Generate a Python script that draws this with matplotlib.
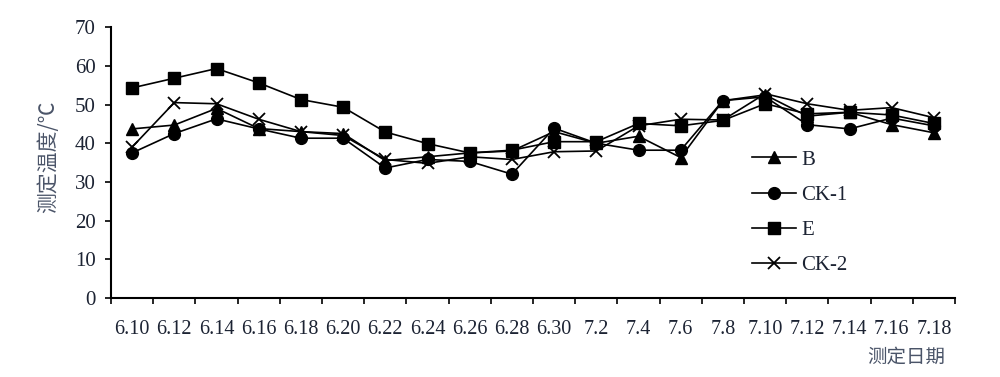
import matplotlib
matplotlib.use("Agg")
import matplotlib.pyplot as plt
import numpy as np

dates = ["6.10", "6.12", "6.14", "6.16", "6.18", "6.20", "6.22", "6.24", "6.26", "6.28",
         "6.30", "7.2", "7.4", "7.6", "7.8", "7.10", "7.12", "7.14", "7.16", "7.18"]
B    = [43.7, 44.7, 49.0, 43.8, 43.0, 42.5, 35.5, 36.5, 37.5, 38.0,
        43.0, 40.0, 41.8, 36.3, 51.0, 52.5, 47.0, 48.0, 44.8, 42.7]
CK1  = [37.5, 42.5, 46.3, 43.7, 41.3, 41.3, 33.6, 35.8, 35.3, 32.0,
        43.9, 40.0, 38.2, 38.2, 51.0, 52.0, 44.8, 43.7, 46.5, 44.5]
E    = [54.3, 56.8, 59.3, 55.6, 51.3, 49.3, 42.9, 39.9, 37.5, 38.2,
        40.4, 40.4, 45.1, 44.5, 45.9, 50.2, 47.6, 48.0, 47.3, 45.1]
CK2  = [39.0, 50.5, 50.2, 46.2, 43.0, 42.0, 35.8, 34.8, 36.5, 35.8,
        37.8, 38.0, 44.5, 46.2, 46.0, 52.8, 50.2, 48.5, 49.2, 46.6]
yticks = [0, 10, 20, 30, 40, 50, 60, 70]

serif = ["Liberation Serif", "DejaVu Serif"]
cjk = ["Noto Sans CJK SC", "DejaVu Sans"]
tick_color = "#1c2333"
label_color = "#4a5468"

fig = plt.figure(figsize=(10, 3.77), dpi=100)
ax = fig.add_axes([0.111, 0.2095, 0.844, 0.7185])

x = np.arange(len(dates))
lw = 1.2
ax.plot(x, B, color="black", lw=lw, marker="^", ms=8.5, label="B")
ax.plot(x, CK1, color="black", lw=lw, marker="o", ms=8.5, label="CK-1")
ax.plot(x, E, color="black", lw=lw, marker="s", ms=8.5, label="E")
ax.plot(x, CK2, color="black", lw=lw, marker="x", ms=9, mew=1.3, label="CK-2")

ax.set_xlim(-0.5, len(dates) - 0.5)
ax.set_ylim(0, 70)
ax.set_yticks(yticks)
ax.set_yticklabels([str(v) for v in yticks], fontfamily=serif, fontsize=15, color=tick_color)
ax.set_xticks(x)
ax.set_xticklabels(dates, fontfamily=serif, fontsize=14.5, color=tick_color)
ax.set_xticks(np.arange(-0.5, len(dates)), minor=True)
ax.tick_params(axis="x", which="major", length=0, pad=16)
ax.tick_params(axis="x", which="minor", length=4, width=1.2, direction="out")
ax.tick_params(axis="y", length=4, width=1.2, direction="out", pad=7)

for s in ["top", "right"]:
    ax.spines[s].set_visible(False)
for s in ["left", "bottom"]:
    ax.spines[s].set_linewidth(1.5)

fig.text(0.048, 0.584, "测定温度/℃", rotation=90, ha="center", va="center",
         fontfamily=cjk, fontsize=15, color=label_color)
fig.text(0.906, 0.052, "测定日期", ha="center", va="center",
         fontfamily=cjk, fontsize=14, color=label_color)

leg = ax.legend(loc="upper left", bbox_to_anchor=(0.752, 0.602), bbox_transform=fig.transFigure,
                frameon=False, prop={"family": serif, "size": 15}, handlelength=2.1,
                handletextpad=0.25, labelspacing=0.75, borderpad=0, borderaxespad=0)
for t in leg.get_texts():
    t.set_color(tick_color)

fig.savefig("out.png", dpi=100)
